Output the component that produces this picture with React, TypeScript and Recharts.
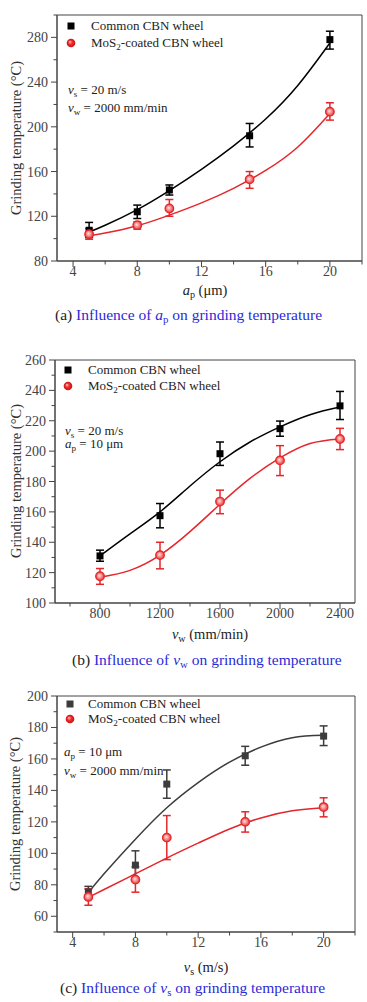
import React from 'react';
import { ComposedChart, Line, Scatter, XAxis, YAxis, ErrorBar, ReferenceArea } from 'recharts';

// ---------- Panel (a): influence of a_p ----------
const apX = [5, 8, 10, 15, 20];
const apCommon = [107.5, 124, 143.5, 192, 278];
const apCommonLo = [6.5, 6, 4.5, 10, 8.5];
const apCommonHi = [7, 6, 4.5, 11, 7.5];
const apMos2 = [104, 112, 127, 153, 213.5];
const apMos2Lo = [4.5, 3.5, 7, 8, 7.5];
const apMos2Hi = [5, 3, 8, 7, 8];
const apFitX = [5, 6, 8, 10, 12, 14, 16, 18, 20];
const apCommonFit = [106, 112, 126, 143, 162, 183, 207, 237, 275];
const apMos2Fit = [102.5, 105, 111.5, 121, 132, 145, 161, 182, 212];
const apXTicks = [4, 6, 8, 10, 12, 14, 16, 18, 20, 22];
const apXMajors = [4, 8, 12, 16, 20];
const apYTicks = [80, 100, 120, 140, 160, 180, 200, 220, 240, 260, 280, 300];
const apYMajors = [80, 120, 160, 200, 240, 280];

// ---------- Panel (b): influence of v_w ----------
const vwX = [800, 1200, 1600, 2000, 2400];
const vwCommon = [131, 157.5, 198.3, 214.8, 229.8];
const vwCommonLo = [3.5, 8, 7.7, 5, 9];
const vwCommonHi = [3.8, 8, 7.7, 5, 9.5];
const vwMos2 = [117.6, 131.5, 166.8, 193.9, 208];
const vwMos2Lo = [5.3, 9, 8, 10, 7];
const vwMos2Hi = [5.1, 8.5, 7.5, 9.7, 7];
const vwFitX = [800, 1000, 1200, 1400, 1600, 1800, 2000, 2200, 2400];
const vwCommonFit = [131, 145.5, 160, 177, 193, 206, 216, 224, 229];
const vwMos2Fit = [117, 121.5, 131.5, 147, 165, 182, 195.5, 205, 208];
const vwXTicks = [600, 800, 1000, 1200, 1400, 1600, 1800, 2000, 2200, 2400];
const vwXMajors = [800, 1200, 1600, 2000, 2400];
const vwYTicks = [100, 110, 120, 130, 140, 150, 160, 170, 180, 190, 200, 210, 220, 230, 240, 250, 260];
const vwYMajors = [100, 120, 140, 160, 180, 200, 220, 240, 260];

// ---------- Panel (c): influence of v_s ----------
const vsX = [5, 8, 10, 15, 20];
const vsCommon = [75.5, 92.5, 144, 162, 174.5];
const vsCommonLo = [3.2, 9.5, 9, 6, 6];
const vsCommonHi = [3.5, 9.1, 9, 6, 6.5];
const vsMos2 = [72.3, 83.3, 110, 120, 129.4];
const vsMos2Lo = [5.3, 8, 14, 6.5, 6.2];
const vsMos2Hi = [5.1, 8.1, 14, 6.4, 5.9];
const vsFitX = [5, 6, 8, 10, 12, 14, 16, 18, 20];
const vsCommonFit = [75, 87, 109, 129, 145, 158, 167.5, 173.5, 175];
const vsMos2Fit = [72, 77, 87, 97, 106.5, 115.5, 122.5, 127, 129];
const vsXTicks = [4, 6, 8, 10, 12, 14, 16, 18, 20, 22];
const vsXMajors = [4, 8, 12, 16, 20];
const vsYTicks = [50, 60, 70, 80, 90, 100, 110, 120, 130, 140, 150, 160, 170, 180, 190, 200];
const vsYMajors = [60, 80, 100, 120, 140, 160, 180, 200];

const SERIF = '"Liberation Serif", "Times New Roman", Times, serif';
const RED = '#e5262b';
const AXIS = '#444';
const BLUE = '#2a2ad8';

const rows = (xs: number[], ys: number[], lo?: number[], hi?: number[]) =>
  xs.map((x, i) => (lo && hi ? { x, y: ys[i], err: [lo[i], hi[i]] } : { x, y: ys[i] }));

const makeYTick = (majors: number[]) => (props: any) => {
  const { x, y, payload } = props;
  const v = payload.value;
  const major = majors.includes(v);
  return (
    <g>
      <line x1={x} x2={x - (major ? 6 : 3.5)} y1={y} y2={y} stroke={AXIS} strokeWidth={1} />
      {major && (
        <text x={x - 9} y={y + 5} textAnchor="end" fontSize={14} fill={AXIS} fontFamily={SERIF}>
          {v}
        </text>
      )}
    </g>
  );
};

const makeXTick = (majors: number[]) => (props: any) => {
  const { x, y, payload } = props;
  const v = payload.value;
  const major = majors.includes(v);
  return (
    <g>
      <line x1={x} x2={x} y1={y} y2={y + (major ? 6 : 3.5)} stroke={AXIS} strokeWidth={1} />
      {major && (
        <text x={x} y={y + 15} textAnchor="middle" fontSize={14} fill={AXIS} fontFamily={SERIF}>
          {v}
        </text>
      )}
    </g>
  );
};

const squareShape = (color: string) => (props: any) => {
  const { cx, cy } = props;
  if (cx == null || cy == null) return <g />;
  return <rect x={cx - 3.5} y={cy - 3.5} width={7} height={7} fill={color} />;
};

const circleShape = (props: any) => {
  const { cx, cy } = props;
  if (cx == null || cy == null) return <g />;
  return <circle cx={cx} cy={cy} r={4.3} fill="url(#plotBall)" stroke={RED} strokeWidth={1.2} />;
};

type PanelProps = {
  top: number;
  height: number;
  margin: { top: number; right: number; left: number; bottom: number };
  yWidth: number;
  xDomain: [number, number];
  yDomain: [number, number];
  xTicks: number[];
  xMajors: number[];
  yTicks: number[];
  yMajors: number[];
  common: any[];
  mos2: any[];
  commonFit: any[];
  mos2Fit: any[];
  commonColor: string;
};

const Panel = (p: PanelProps) => (
  <div style={{ position: 'absolute', left: 0, top: p.top }}>
    <ComposedChart width={367} height={p.height} margin={p.margin}>
      <XAxis
        type="number"
        dataKey="x"
        domain={p.xDomain}
        ticks={p.xTicks}
        interval={0}
        allowDataOverflow
        tickSize={0}
        tickMargin={0}
        tickLine={false}
        height={24}
        axisLine={{ stroke: AXIS, strokeWidth: 1 }}
        tick={makeXTick(p.xMajors)}
      />
      <YAxis
        type="number"
        dataKey="y"
        domain={p.yDomain}
        ticks={p.yTicks}
        interval={0}
        allowDataOverflow
        tickSize={0}
        tickMargin={0}
        tickLine={false}
        width={p.yWidth}
        axisLine={{ stroke: AXIS, strokeWidth: 1 }}
        tick={makeYTick(p.yMajors)}
      />
      <ReferenceArea
        x1={p.xDomain[0]}
        x2={p.xDomain[1]}
        y1={p.yDomain[0]}
        y2={p.yDomain[1]}
        fill="none"
        fillOpacity={0}
        stroke={AXIS}
        strokeWidth={1}
      />
      <Line
        data={p.commonFit}
        dataKey="y"
        type="natural"
        stroke={p.commonColor}
        strokeWidth={1.5}
        dot={false}
        isAnimationActive={false}
      />
      <Line
        data={p.mos2Fit}
        dataKey="y"
        type="natural"
        stroke={RED}
        strokeWidth={1.5}
        dot={false}
        isAnimationActive={false}
      />
      <Scatter data={p.common} dataKey="y" shape={squareShape(p.commonColor)} isAnimationActive={false}>
        <ErrorBar dataKey="err" direction="y" width={4} stroke={p.commonColor} strokeWidth={1.5} />
      </Scatter>
      <Scatter data={p.mos2} dataKey="y" shape={circleShape} isAnimationActive={false}>
        <ErrorBar dataKey="err" direction="y" width={4} stroke={RED} strokeWidth={1.5} />
      </Scatter>
    </ComposedChart>
  </div>
);

const subStyle: React.CSSProperties = { fontSize: '0.7em', verticalAlign: '-0.3em', lineHeight: 0 };

const Txt = ({ left, cy, size = 13, color = '#222', children }: any) => (
  <div
    style={{
      position: 'absolute',
      left,
      top: cy - size * 0.6,
      fontSize: size,
      lineHeight: `${size * 1.2}px`,
      fontFamily: SERIF,
      color,
      whiteSpace: 'nowrap',
    }}
  >
    {children}
  </div>
);

const CenterTxt = ({ cx, cy, size = 14, color = '#222', children }: any) => (
  <div
    style={{
      position: 'absolute',
      left: cx - 200,
      width: 400,
      textAlign: 'center',
      top: cy - size * 0.6,
      fontSize: size,
      lineHeight: `${size * 1.2}px`,
      fontFamily: SERIF,
      color,
      whiteSpace: 'nowrap',
    }}
  >
    {children}
  </div>
);

const YLabel = ({ cx, cy }: any) => (
  <div
    style={{
      position: 'absolute',
      left: cx - 150,
      top: cy - 9,
      width: 300,
      height: 18,
      lineHeight: '18px',
      textAlign: 'center',
      transform: 'rotate(-90deg)',
      fontSize: 14.5,
      fontFamily: SERIF,
      color: '#333',
      whiteSpace: 'nowrap',
    }}
  >
    Grinding temperature (°C)
  </div>
);

const LegendBlock = ({ sx, tx, y1, y2, commonColor }: any) => (
  <>
    <svg style={{ position: 'absolute', left: sx - 6, top: y1 - 6 }} width={12} height={12}>
      <rect x={2.5} y={2.5} width={7} height={7} fill={commonColor} />
    </svg>
    <svg style={{ position: 'absolute', left: sx - 6, top: y2 - 6 }} width={12} height={12}>
      <circle cx={6} cy={6} r={4.3} fill="url(#legendBall)" />
    </svg>
    <Txt left={tx} cy={y1}>Common CBN wheel</Txt>
    <Txt left={tx} cy={y2}>
      MoS<span style={subStyle}>2</span>-coated CBN wheel
    </Txt>
  </>
);

const V = ({ s }: { s: string }) => (
  <>
    <i>v</i>
    <span style={subStyle}>{s}</span>
  </>
);
const AP = () => (
  <>
    <i>a</i>
    <span style={subStyle}>p</span>
  </>
);

export default function App() {
  return (
    <div style={{ position: 'absolute', left: 0, top: 0, width: 367, height: 1002, background: '#fff', overflow: 'hidden' }}>
      <svg width={0} height={0} style={{ position: 'absolute' }}>
        <defs>
          <radialGradient id="plotBall" cx="0.5" cy="0.5" r="0.5" fx="0.4" fy="0.4">
            <stop offset="0%" stopColor="#ffe4e4" />
            <stop offset="60%" stopColor="#f58080" />
            <stop offset="100%" stopColor="#e52b2b" />
          </radialGradient>
          <radialGradient id="legendBall" cx="0.5" cy="0.5" r="0.5" fx="0.35" fy="0.35">
            <stop offset="0%" stopColor="#ffd0d0" />
            <stop offset="45%" stopColor="#f03030" />
            <stop offset="100%" stopColor="#c81010" />
          </radialGradient>
        </defs>
      </svg>

      {/* Panel (a) */}
      <Panel
        top={0}
        height={290}
        margin={{ top: 15, right: 5, left: 0, bottom: 5 }}
        yWidth={57}
        xDomain={[3, 22]}
        yDomain={[80, 300]}
        xTicks={apXTicks}
        xMajors={apXMajors}
        yTicks={apYTicks}
        yMajors={apYMajors}
        common={rows(apX, apCommon, apCommonLo, apCommonHi)}
        mos2={rows(apX, apMos2, apMos2Lo, apMos2Hi)}
        commonFit={rows(apFitX, apCommonFit)}
        mos2Fit={rows(apFitX, apMos2Fit)}
        commonColor="#000"
      />
      <YLabel cx={16} cy={138} />
      <LegendBlock sx={71} tx={91} y1={26} y2={42.7} commonColor="#000" />
      <Txt left={68} cy={89.3}><V s="s" /> = 20 m/s</Txt>
      <Txt left={68} cy={107.3}><V s="w" /> = 2000 mm/min</Txt>
      <CenterTxt cx={205} cy={290.5} size={14.5}><AP /> (μm)</CenterTxt>
      <Txt left={55} cy={315} size={15.5}>
        (a) <span style={{ color: BLUE }}>Influence of <AP /> on grinding temperature</span>
      </Txt>

      {/* Panel (b) */}
      <Panel
        top={340}
        height={290}
        margin={{ top: 20, right: 12, left: 0, bottom: 3 }}
        yWidth={55}
        xDomain={[500, 2500]}
        yDomain={[100, 260]}
        xTicks={vwXTicks}
        xMajors={vwXMajors}
        yTicks={vwYTicks}
        yMajors={vwYMajors}
        common={rows(vwX, vwCommon, vwCommonLo, vwCommonHi)}
        mos2={rows(vwX, vwMos2, vwMos2Lo, vwMos2Hi)}
        commonFit={rows(vwFitX, vwCommonFit)}
        mos2Fit={rows(vwFitX, vwMos2Fit)}
        commonColor="#000"
      />
      <YLabel cx={16} cy={481} />
      <LegendBlock sx={68} tx={88} y1={370} y2={385.5} commonColor="#000" />
      <Txt left={65} cy={430.7}><V s="s" /> = 20 m/s</Txt>
      <Txt left={65} cy={444}><AP /> = 10 μm</Txt>
      <CenterTxt cx={210} cy={635} size={14.5}><V s="w" /> (mm/min)</CenterTxt>
      <Txt left={72} cy={660} size={15.5}>
        (b) <span style={{ color: BLUE }}>Influence of <V s="w" /> on grinding temperature</span>
      </Txt>

      {/* Panel (c) */}
      <Panel
        top={680}
        height={290}
        margin={{ top: 16, right: 12, left: 0, bottom: 14 }}
        yWidth={57}
        xDomain={[3, 22]}
        yDomain={[50, 200]}
        xTicks={vsXTicks}
        xMajors={vsXMajors}
        yTicks={vsYTicks}
        yMajors={vsYMajors}
        common={rows(vsX, vsCommon, vsCommonLo, vsCommonHi)}
        mos2={rows(vsX, vsMos2, vsMos2Lo, vsMos2Hi)}
        commonFit={rows(vsFitX, vsCommonFit)}
        mos2Fit={rows(vsFitX, vsMos2Fit)}
        commonColor="#3c3c3c"
      />
      <YLabel cx={15} cy={814} />
      <LegendBlock sx={70} tx={88} y1={704} y2={718.5} commonColor="#3c3c3c" />
      <Txt left={64} cy={752}><AP /> = 10 μm</Txt>
      <Txt left={64} cy={771}><V s="w" /> = 2000 mm/min</Txt>
      <CenterTxt cx={206} cy={968} size={14.5}><V s="s" /> (m/s)</CenterTxt>
      <Txt left={60} cy={988} size={15.5}>
        (c) <span style={{ color: BLUE }}>Influence of <V s="s" /> on grinding temperature</span>
      </Txt>
    </div>
  );
}
